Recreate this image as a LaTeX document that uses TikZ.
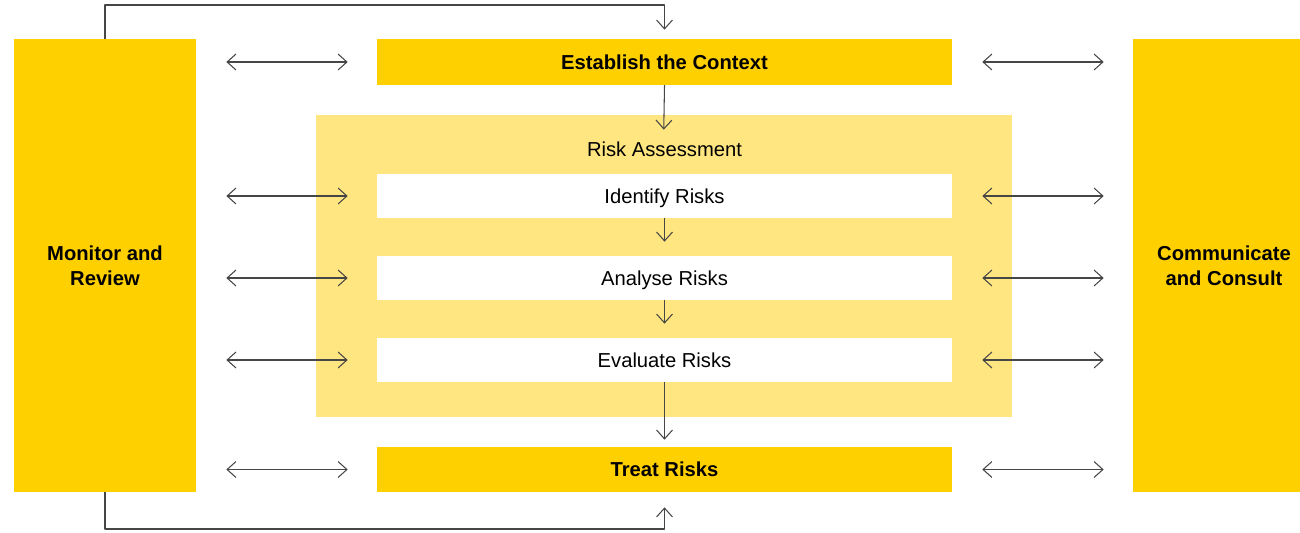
\documentclass[tikz,border=0pt]{standalone}
\usepackage{fontspec}
\setmainfont{Liberation Sans}
\usetikzlibrary{arrows.meta}
\definecolor{riskyellow}{RGB}{255,208,0}
\definecolor{risklight}{RGB}{255,230,128}
\definecolor{linegray}{RGB}{70,70,70}
\tikzset{
    lab/.style={
        font=\fontsize{11.5}{14.2}\selectfont
    },
    blab/.style={
        font=\fontsize{11.5}{14.2}\selectfont\bfseries
    }
}

\begin{document}
\begin{tikzpicture}[x=0.02cm, y=-0.02cm, line cap=round, line join=round]

% box + connector styles
\tikzset{
  side/.style={rectangle, fill=riskyellow, blab, align=center,
    minimum width=3.64cm, minimum height=9.06cm, inner sep=0pt},
  stage/.style={rectangle, fill=riskyellow, blab, text depth=0pt,
    minimum width=11.5cm, inner sep=0pt},
  sub/.style={rectangle, fill=white, lab, text depth=0pt, minimum width=11.5cm,
    minimum height=0.88cm, inner sep=0pt},
  arr/.style={draw=linegray, line width=0.6pt, -{Straight Barb[length=5pt, width=9pt]}},
  dbl/.style={draw=linegray, line width=0.6pt,
    {Straight Barb[length=5pt, width=9pt]}-{Straight Barb[length=5pt, width=9pt]},
    shorten <=0.6cm, shorten >=0.58cm},
}

  \useasboundingbox (0,0) rectangle (1300,533);

  % side boxes (the right one runs past the page edge)
  \node[side] (mon) at (105,265.5) {Monitor and\\Review};
  \node[side] (com) at (1224,265.5) {Communicate\\and Consult};

  % risk assessment panel
  \node[rectangle, fill=risklight, minimum width=13.92cm, minimum height=6.04cm,
    inner sep=0pt] (ra) at (664,266) {};
  \node[lab, text depth=0pt] (ralab) at (664.5,149) {Risk Assessment};

  % stages
  \node[stage, minimum height=0.92cm] (est) at (664.5,62) {Establish the Context};
  \node[sub] (idf) at (664.5,196) {Identify Risks};
  \node[sub] (ana) at (664.5,278) {Analyse Risks};
  \node[sub] (eva) at (664.5,360) {Evaluate Risks};
  \node[stage, minimum height=0.9cm] (trt) at (664.5,469.5) {Treat Risks};

  % flow down
  \draw[arr, shorten >=-0.3cm] (est.south) -- (ra.north);
  \draw[arr, shorten >=0.28cm] (idf.south) -- (ana.north);
  \draw[arr, shorten >=0.28cm] (ana.south) -- (eva.north);
  \draw[arr, shorten >=0.14cm] (eva.south) -- (trt.north);

  % feedback loops
  \coordinate (fbtop) at (664.5,5);
  \coordinate (fbbot) at (664.5,529);
  \draw[arr, shorten >=0.18cm] (mon.north) |- (fbtop) -- (est.north);
  \draw[arr, shorten >=0.3cm] (mon.south) |- (fbbot) -- (trt.south);

  % links to the side boxes
  \foreach \n in {est,idf,ana,eva,trt} {
    \draw[dbl] (mon.east |- \n.west) -- (\n.west);
    \draw[dbl] (\n.east) -- (com.west |- \n.east);
  }

\end{tikzpicture}
\end{document}
